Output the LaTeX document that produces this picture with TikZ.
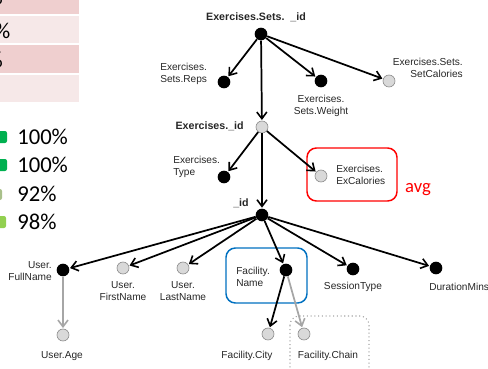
\documentclass[tikz,border=0pt]{standalone}
\usepackage{fontspec}
\setmainfont{Liberation Sans}
\newfontfamily\calib{Carlito}
\usetikzlibrary{arrows.meta}
\definecolor{txt}{HTML}{262626}
\definecolor{dotgray}{HTML}{D9D9D9}
\definecolor{dotedge}{HTML}{8C8C8C}
\definecolor{edgegray}{HTML}{A6A6A6}
\definecolor{pinkA}{HTML}{EFCFCF}
\definecolor{pinkB}{HTML}{F6E8E8}
\definecolor{boxred}{HTML}{FF0000}
\definecolor{boxblue}{HTML}{0070C0}
\definecolor{gdark}{HTML}{00B050}
\definecolor{glight}{HTML}{92D050}
\definecolor{gmuted}{HTML}{A9C08A}
\begin{document}
\begin{tikzpicture}[x=0.75pt,y=-0.75pt,
  dotb/.style={circle,fill=black,inner sep=0pt,minimum size=9.5pt},
  dotg/.style={circle,fill=dotgray,draw=dotedge,line width=0.5pt,inner sep=0pt,minimum size=9pt},
  lbl/.style={font=\fontsize{7.6}{8.8}\selectfont,text=txt,inner sep=0pt},
  blbl/.style={font=\bfseries\fontsize{8}{9.6}\selectfont,text=txt,inner sep=0pt},
  edge/.style={line width=1.3pt,-{Straight Barb[length=5pt,width=7.5pt,line width=1.2pt]},shorten >=0.5pt},
  gedge/.style={edge,draw=edgegray},
  legtxt/.style={font=\calib\fontsize{17}{20}\selectfont,text=black,inner sep=0pt,anchor=west},
  hl/.style={rounded corners=7pt,line width=1.1pt}
]
\useasboundingbox (0,0) rectangle (488,368);

% table and legend at the left edge, cut by the page border
\begin{scope}
  \clip (0,0) rectangle (488,368);
  \fill[pinkA] (-20,-10) rectangle (79,14);
  \fill[pinkB] (-20,15.5) rectangle (79,43);
  \fill[pinkA] (-20,44.5) rectangle (79,73);
  \fill[pinkB] (-20,75) rectangle (79,102);
  \node[legtxt,anchor=east] (t1) at (3,-3) {\%};
  \node[legtxt,anchor=east] (t2) at (10.5,31) {\%};
  \node[legtxt,anchor=east] (t3) at (3,60) {\%};

  \fill[gdark,rounded corners=1.5pt] (-5,131) rectangle (7,143);
  \fill[gdark,rounded corners=1.5pt] (-5,159) rectangle (7,171);
  \fill[gmuted,rounded corners=1.5pt] (-10,189) rectangle (2,200);
  \fill[glight,rounded corners=1.5pt] (-6,216) rectangle (6,228);
  \node[legtxt] (l1) at (17,137) {100\%};
  \node[legtxt] (l2) at (17,165) {100\%};
  \node[legtxt] (l3) at (17,194) {92\%};
  \node[legtxt] (l4) at (17,222) {98\%};
\end{scope}

% highlight frames
\draw[hl,draw=boxred] (307,148) rectangle (397,201);
\draw[hl,draw=boxblue] (226,248) rectangle (307,303);
\draw[hl,draw=edgegray,line width=0.8pt,dotted] (290,316) rectangle (369,380);
\node[font=\calib\fontsize{14}{16}\selectfont,text=boxred,inner sep=0pt] (avg) at (418,190) {avg};

% attribute dots
\node[dotb] (root) at (261,34) {};
\node[dotb] (reps) at (224,82) {};
\node[dotb] (weight) at (321,81) {};
\node[dotg] (setcal) at (389,81) {};
\node[dotg] (exid) at (262,127) {};
\node[dotb] (type) at (224,177) {};
\node[dotg] (excal) at (321,176) {};
\node[dotb] (id) at (262,215) {};
\node[dotb] (fullname) at (63,270) {};
\node[dotg] (age) at (63,335) {};
\node[dotg] (firstname) at (123,268) {};
\node[dotg] (lastname) at (183,268) {};
\node[dotb] (facname) at (286,270) {};
\node[dotb] (session) at (353,269) {};
\node[dotb] (duration) at (436,268) {};
\node[dotg] (city) at (268,334) {};
\node[dotg] (chain) at (304,334) {};

% labels
\node[blbl] (root-l) at (256,17) {Exercises.Sets.\ \ \_id};
\node[lbl,anchor=west,align=left] (reps-l) at (160,74) {Exercises.\\Sets.Reps};
\node[lbl,align=center] (weight-l) at (321,106) {Exercises.\\Sets.Weight};
\node[lbl,anchor=east,align=right] (setcal-l) at (463,68) {Exercises.Sets.\\SetCalories};
\node[blbl,anchor=east] (exid-l) at (244,126) {Exercises.\_id};
\node[lbl,anchor=west,align=left] (type-l) at (173,167) {Exercises.\\Type};
\node[lbl,anchor=west,align=left] (excal-l) at (336,175) {Exercises.\\ExCalories};
\node[blbl] (id-l) at (241,203) {\_id};
\node[lbl,anchor=east,align=right] (fullname-l) at (52,271) {User.\\FullName};
\node[lbl,align=center] (firstname-l) at (123,291) {User.\\FirstName};
\node[lbl,align=center] (lastname-l) at (183,291) {User.\\LastName};
\node[lbl,anchor=west,align=left] (facname-l) at (236,277) {Facility.\\Name};
\node[lbl] (session-l) at (353,287) {SessionType};
\node[lbl,anchor=west] (duration-l) at (429,287) {DurationMins};
\node[lbl] (age-l) at (62,356) {User.Age};
\node[lbl] (city-l) at (247,356) {Facility.City};
\node[lbl] (chain-l) at (328,356) {Facility.Chain};

% connectors
\draw[edge] (root) -- (reps);
\draw[edge] (root) -- (weight);
\draw[edge] (root) -- (setcal);
\draw[edge] (root) -- (exid);
\draw[edge] (exid) -- (type);
\draw[edge] (exid) -- (excal);
\draw[edge] (exid) -- (id);
\draw[edge] (id) -- (fullname);
\draw[edge] (id) -- (firstname);
\draw[edge] (id) -- (lastname);
\draw[edge] (id) -- (facname);
\draw[edge] (id) -- (session);
\draw[edge] (id) -- (duration);
\draw[gedge] (fullname) -- (age);
\draw[edge] (facname) -- (city);
\draw[gedge] (facname) -- (chain);
\end{tikzpicture}
\end{document}
